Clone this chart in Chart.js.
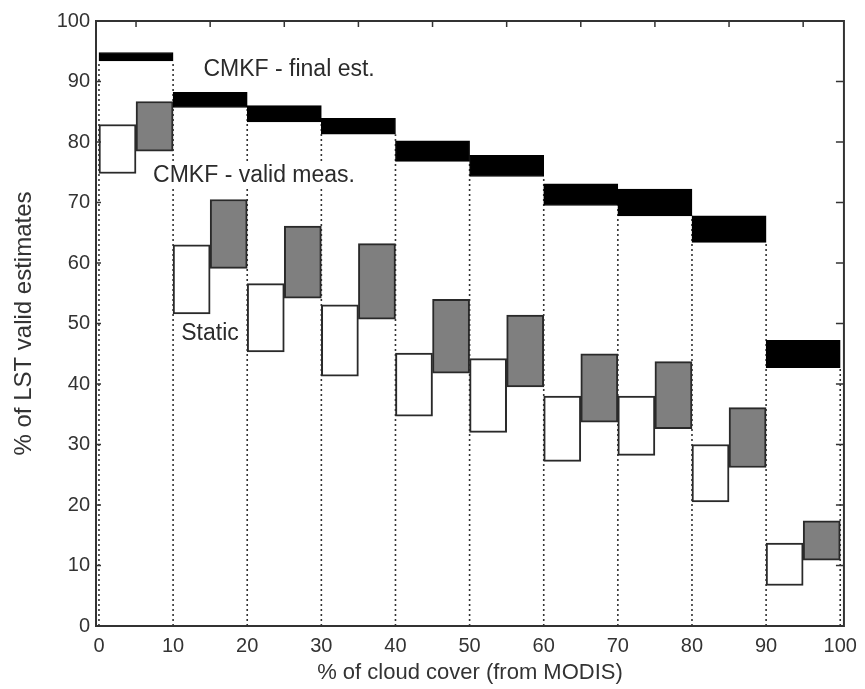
<!DOCTYPE html>
<html>
<head>
<meta charset="utf-8">
<title>LST valid estimates vs cloud cover</title>
<script src="https://cdn.jsdelivr.net/npm/chart.js@4.4.0/dist/chart.umd.min.js"></script>
<style>
  html, body { margin: 0; padding: 0; background: #fff; }
  #wrap { width: 865px; height: 689px; position: relative; }
</style>
</head>
<body>
<div id="wrap"><canvas id="cloud-chart"></canvas></div>
<script>
// cloud cover classes (left edge of each 10 % bin)
const binStarts = [0, 10, 20, 30, 40, 50, 60, 70, 80, 90];
const binWidth = 10;
const xTicks = [0, 10, 20, 30, 40, 50, 60, 70, 80, 90, 100];
const yTicks = [0, 10, 20, 30, 40, 50, 60, 70, 80, 90, 100];
const topTicks = [5, 15, 25, 35, 45, 55, 65, 75, 85, 95];

// range of valid LST estimates per class, low / high end
const finalLow  = [93.4, 85.7, 83.3, 81.3, 76.8, 74.3, 69.5, 67.8, 63.4, 42.7];
const finalHigh = [94.8, 88.2, 86.0, 83.9, 80.2, 77.8, 73.1, 72.2, 67.8, 47.2];
const validLow  = [78.5, 59.1, 54.2, 50.7, 41.8, 39.5, 33.7, 32.6, 26.2, 10.9];
const validHigh = [86.7, 70.5, 66.1, 63.2, 54.0, 51.4, 45.0, 43.7, 36.1, 17.4];
const staticLow  = [74.8, 51.6, 45.3, 41.3, 34.7, 32.0, 27.2, 28.2, 20.5, 6.7];
const staticHigh = [82.9, 63.0, 56.6, 53.1, 45.1, 44.2, 38.0, 38.0, 30.0, 13.7];

const seriesNames = ['CMKF - final est.', 'CMKF - valid meas.', 'Static'];

const FONT = '"Liberation Sans", Arial, sans-serif';
const xMin = -0.4, xMax = 100.5;

function rangeData(low, high, shift) {
    return binStarts.map((s, i) => ({ x: s + shift, y: [low[i], high[i]] }));
}

// dotted guide at every bin edge, from 0 up to the final estimate on its left
function edgeGuides() {
    const pts = [];
    xTicks.forEach((edge, k) => {
        const top = finalLow[Math.max(k - 1, 0)];
        pts.push({ x: edge, y: 0 }, { x: edge, y: top }, { x: edge, y: null });
    });
    return pts;
}

const useTicks = values => scale => { scale.ticks = values.map(v => ({ value: v })); };

const frameAndNotes = {
    id: 'frameAndNotes',
    afterDatasetsDraw(chart) {
        const { ctx, chartArea: a, scales: { x, y } } = chart;
        ctx.save();

        // series names, on a white patch so the guides don't run through them
        const notes = [
            { text: seriesNames[0], x: 14.1, y: 91.9 },
            { text: seriesNames[1], x: 7.3, y: 74.5 },
            { text: seriesNames[2], x: 11.1, y: 48.3 }
        ];
        ctx.font = '23px ' + FONT;
        ctx.textBaseline = 'middle';
        notes.forEach(n => {
            const px = x.getPixelForValue(n.x);
            const py = y.getPixelForValue(n.y);
            const w = ctx.measureText(n.text).width;
            ctx.fillStyle = '#fff';
            ctx.fillRect(px - 2, py - 13, w + 4, 26);
            ctx.fillStyle = '#2b2b2b';
            ctx.fillText(n.text, px, py);
        });

        // inward tick marks
        ctx.strokeStyle = '#333';
        ctx.lineWidth = 1.5;
        ctx.beginPath();
        topTicks.forEach(v => {
            const px = x.getPixelForValue(v);
            ctx.moveTo(px, a.top);
            ctx.lineTo(px, a.top + 6);
        });
        yTicks.slice(1, -1).forEach(v => {
            const py = y.getPixelForValue(v);
            ctx.moveTo(a.right, py);
            ctx.lineTo(a.right - 8, py);
            ctx.moveTo(a.left, py);
            ctx.lineTo(a.left + 5, py);
        });
        ctx.stroke();

        // axes box
        ctx.lineWidth = 2;
        ctx.strokeRect(a.left, a.top, a.right - a.left, a.bottom - a.top);
        ctx.restore();
    }
};

const ctx = document.getElementById('cloud-chart').getContext('2d');
new Chart(ctx, {
    type: 'bar',
    data: {
        datasets: [
            {
                label: seriesNames[0],
                data: rangeData(finalLow, finalHigh, binWidth / 2),
                xAxisID: 'x2',
                backgroundColor: '#000',
                borderColor: '#000',
                borderWidth: 1,
                borderSkipped: false,
                grouped: false,
                barPercentage: 1,
                categoryPercentage: 1,
                order: 1
            },
            {
                label: seriesNames[1],
                data: rangeData(validLow, validHigh, binWidth * 3 / 4),
                xAxisID: 'x',
                backgroundColor: '#7f7f7f',
                borderColor: '#2a2a2a',
                borderWidth: 2,
                borderSkipped: false,
                grouped: false,
                barPercentage: 1,
                categoryPercentage: 1,
                order: 1
            },
            {
                label: seriesNames[2],
                data: rangeData(staticLow, staticHigh, binWidth / 4),
                xAxisID: 'x',
                backgroundColor: '#fff',
                borderColor: '#2a2a2a',
                borderWidth: 2,
                borderSkipped: false,
                grouped: false,
                barPercentage: 1,
                categoryPercentage: 1,
                order: 1
            },
            {
                type: 'line',
                label: 'bin edges',
                data: edgeGuides(),
                xAxisID: 'x',
                borderColor: '#333',
                borderWidth: 1.6,
                borderDash: [2, 3],
                pointRadius: 0,
                spanGaps: false,
                fill: false,
                order: 5
            }
        ]
    },
    options: {
        responsive: true,
        maintainAspectRatio: false,
        animation: false,
        layout: { padding: { top: 21, right: 17, left: 0, bottom: 0 } },
        plugins: {
            legend: { display: false },
            tooltip: { enabled: false }
        },
        scales: {
            x: {
                type: 'linear',
                min: xMin,
                max: xMax,
                offset: false,
                afterBuildTicks: useTicks(xTicks),
                afterFit: scale => { scale.height = 63; },
                grid: { display: false, drawTicks: false, offset: false },
                border: { display: false },
                ticks: {
                    color: '#333',
                    padding: 8,
                    maxRotation: 0,
                    font: { size: 20, family: FONT }
                },
                title: {
                    display: true,
                    text: '% of cloud cover (from MODIS)',
                    color: '#333',
                    padding: { top: 3, bottom: 3 },
                    font: { size: 22, family: FONT }
                }
            },
            x2: {
                type: 'linear',
                display: false,
                min: xMin,
                max: xMax,
                offset: false,
                afterBuildTicks: useTicks(xTicks),
                grid: { offset: false }
            },
            y: {
                type: 'linear',
                min: 0,
                max: 100,
                afterBuildTicks: useTicks(yTicks),
                afterFit: scale => { scale.width = 96; },
                grid: { display: false, drawTicks: false },
                border: { display: false },
                ticks: {
                    color: '#333',
                    padding: 6,
                    font: { size: 20, family: FONT }
                },
                title: {
                    display: true,
                    text: '% of LST valid estimates',
                    color: '#333',
                    padding: { top: 10, bottom: 0 },
                    font: { size: 24, family: FONT }
                }
            }
        }
    },
    plugins: [frameAndNotes]
});
</script>
</body>
</html>
